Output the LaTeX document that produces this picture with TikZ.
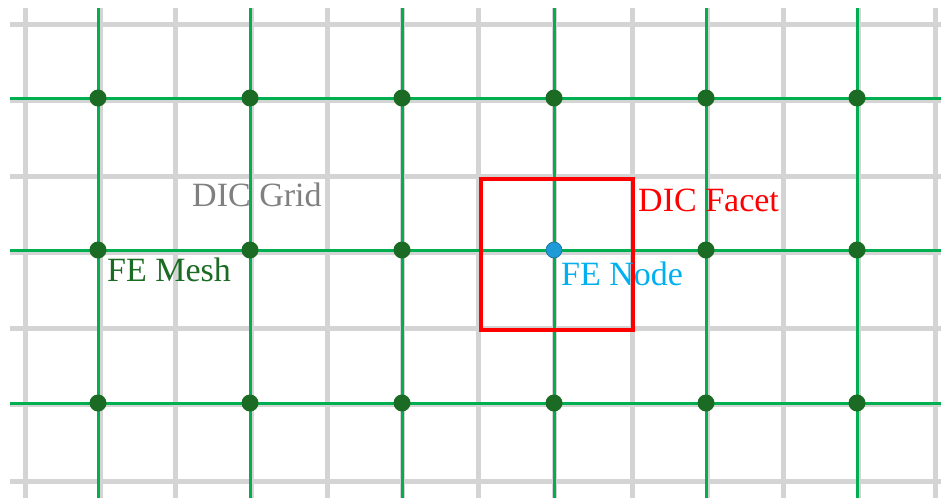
\documentclass[tikz,border=0pt]{standalone}
\usepackage{fontspec}
\setmainfont{Liberation Serif}
\definecolor{gridgray}{HTML}{D4D4D4}
\definecolor{textgray}{HTML}{808080}
\definecolor{meshgreen}{HTML}{00B050}
\definecolor{dotgreen}{HTML}{1B6B24}
\definecolor{nodeblue}{HTML}{1E9BD7}
\definecolor{textblue}{HTML}{00B0F0}
\begin{document}
\begin{tikzpicture}[x=1pt,y=-1pt,
  gridline/.style={draw=gridgray,line width=5pt},
  meshline/.style={draw=meshgreen,line width=3pt},
  femdot/.style={circle,fill=dotgreen,inner sep=0pt,minimum size=17pt},
  fenode/.style={circle,fill=nodeblue,draw=nodeblue!70!black,line width=0.6pt,inner sep=0pt,minimum size=16pt},
  facet/.style={draw=red,line width=3.5pt},
  lbl/.style={font=\fontsize{34}{37}\selectfont,anchor=base west,inner sep=0pt}]
\useasboundingbox (0,0) rectangle (941,498);
\fill[white] (0,0) rectangle (941,498);
% DIC grid
\foreach \x [count=\i] in {25,100,175,251,327,402,478,554,632,707,783,858,935}{
  \coordinate (gv\i t) at (\x,8);
  \coordinate (gv\i b) at (\x,498);
  \draw[gridline] (gv\i t) -- (gv\i b);
}
\foreach \y [count=\j] in {24,100,176,252,328,404,481}{
  \coordinate (gh\j l) at (10,\y);
  \coordinate (gh\j r) at (941,\y);
  \draw[gridline] (gh\j l) -- (gh\j r);
}
% FE mesh lines
\foreach \x [count=\i] in {98,250,402,554,706,857}{
  \coordinate (mv\i t) at (\x,8);
  \coordinate (mv\i b) at (\x,498);
  \draw[meshline] (mv\i t) -- (mv\i b);
}
\foreach \y [count=\j] in {98,250,403}{
  \coordinate (mh\j l) at (10,\y);
  \coordinate (mh\j r) at (941,\y);
  \draw[meshline] (mh\j l) -- (mh\j r);
}
% FE nodes (dots)
\foreach \x [count=\i] in {98,250,402,554,706,857}{
  \foreach \y [count=\j] in {98,250,403}{
    \ifnum\i=4 \ifnum\j=2 \else
      \node[femdot] (d\i-\j) at (\x,\y) {};
    \fi\else
      \node[femdot] (d\i-\j) at (\x,\y) {};
    \fi
  }
}
% DIC facet
\node[draw=none,minimum width=152pt,minimum height=151pt,inner sep=0pt] (facet) at (557,254.5) {};
\draw[facet] (facet.north west) rectangle (facet.south east);
% highlighted FE node
\node[fenode] (fen) at (554,250) {};
% labels
\node[lbl,text=textgray] (lgrid) at (192,206) {DIC Grid};
\node[lbl,text=dotgreen] (lmesh) at (107,281) {FE Mesh};
\node[lbl,text=red] (lfacet) at (638,211) {DIC Facet};
\node[lbl,text=textblue] (lnode) at (561,285) {FE Node};
\end{tikzpicture}
\end{document}
